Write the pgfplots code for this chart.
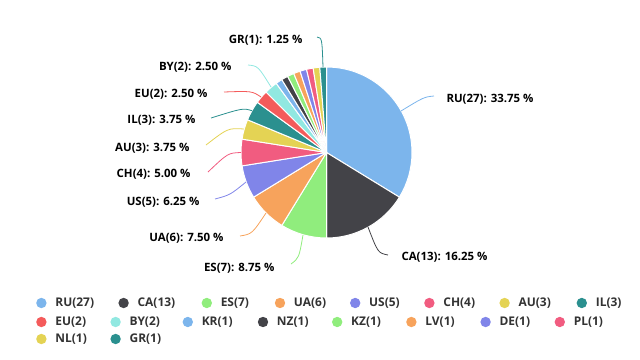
\documentclass[border=0pt]{standalone}
\usepackage{fontspec}
\setmainfont{Open Sans}
\usepackage{pgfplots}
\usepackage{pgfplotstable}
\pgfplotsset{compat=1.18}
\definecolor{hc1}{HTML}{7CB5EC}
\definecolor{hc2}{HTML}{434348}
\definecolor{hc3}{HTML}{90ED7D}
\definecolor{hc4}{HTML}{F7A35C}
\definecolor{hc5}{HTML}{8085E9}
\definecolor{hc6}{HTML}{F15C80}
\definecolor{hc7}{HTML}{E4D354}
\definecolor{hc8}{HTML}{2B908F}
\definecolor{hc9}{HTML}{F45B5B}
\definecolor{hc10}{HTML}{91E8E1}
\definecolor{legtext}{HTML}{333333}

\pgfplotstableread{
name count color
RU 27 hc1
CA 13 hc2
ES 7 hc3
UA 6 hc4
US 5 hc5
CH 4 hc6
AU 3 hc7
IL 3 hc8
EU 2 hc9
BY 2 hc10
KR 1 hc1
NZ 1 hc2
KZ 1 hc3
LV 1 hc4
DE 1 hc5
PL 1 hc6
NL 1 hc7
GR 1 hc8
}\piedata

\newcommand{\lbl}{\bfseries\fontsize{11.5}{13}\selectfont}
\pgfplotsset{
  legrow/.style={
    anchor=south west, scale only axis, width=5bp, height=5bp, hide axis,
    xmin=0, xmax=1, ymin=0, ymax=1, legend columns=-1,
    legend style={at={(0,0)}, anchor=west, draw=none, fill=none,
      inner sep=0pt, column sep=0pt, nodes={inner sep=0pt},
      cells={anchor=west}, font=\bfseries\fontsize{12}{14}\selectfont, text=legtext}
  },
  dot/.style={legend image code/.code={%
    \fill[draw=none, fill=#1] (0,0) circle (5.2bp);
    \path[draw=none, fill=none] (-5.2bp,0) rectangle (14bp,0.1bp);}}
}

\begin{document}
\begin{tikzpicture}
\useasboundingbox (0,0) rectangle (640bp,360bp);
\begin{axis}[at={(0,0)}, anchor=south west, scale only axis,
  width=640bp, height=360bp, xmin=0, xmax=640, ymin=0, ymax=360,
  y dir=reverse, hide axis, clip=false]
\pgfplotsextra{
  \pgfplotstablegetrowsof{\piedata}
  \pgfmathtruncatemacro\lastrow{\pgfplotsretval-1}
  \gdef\mysum{0}
  \foreach \i in {0,...,\lastrow}{
    \pgfplotstablegetelem{\i}{count}\of\piedata
    \pgfmathsetmacro\tmpsum{\mysum+\pgfplotsretval}
    \global\let\mysum\tmpsum
  }
  \gdef\mycum{0}
  \foreach \i in {0,...,\lastrow}{
    \pgfplotstablegetelem{\i}{count}\of\piedata
    \let\myval\pgfplotsretval
    \pgfplotstablegetelem{\i}{color}\of\piedata
    \let\mycol\pgfplotsretval
    \pgfmathsetmacro\angA{90-\mycum/\mysum*360}
    \pgfmathsetmacro\angB{90-(\mycum+\myval)/\mysum*360}
    \fill[fill=\mycol, draw=white, line width=1bp, line join=round]
      (axis cs:326.5,152.5) -- ++(\angA:85.5bp)
      arc[start angle=\angA, end angle=\angB, radius=85.5bp] -- cycle;
    \pgfmathsetmacro\tmpcum{\mycum+\myval}
    \global\let\mycum\tmpcum
  }
}
% connectors
\draw[hc1, line width=0.8bp] (axis cs:434,96) .. controls (axis cs:424,97) .. (axis cs:401,111);
\draw[hc2, line width=0.8bp] (axis cs:388,255) .. controls (axis cs:378,253) .. (axis cs:368,227);
\draw[hc3, line width=0.8bp] (axis cs:291,264) .. controls (axis cs:299,258) .. (axis cs:303,235);
\draw[hc4, line width=0.8bp] (axis cs:240,236) .. controls (axis cs:252,234) .. (axis cs:266,213);
\draw[hc5, line width=0.8bp] (axis cs:215,199) .. controls (axis cs:230,195) .. (axis cs:246,182);
\draw[hc6, line width=0.8bp] (axis cs:208,172) .. controls (axis cs:228,153) .. (axis cs:241,152.5);
\draw[hc7, line width=0.8bp] (axis cs:206,145) .. controls (axis cs:228,128) .. (axis cs:244,129);
\draw[hc8, line width=0.8bp] (axis cs:211,118) .. controls (axis cs:243,108) .. (axis cs:252,110.7);
\draw[hc9, line width=0.8bp] (axis cs:224,92) .. controls (axis cs:252,91) .. (axis cs:261,97);
\draw[hc10, line width=0.8bp] (axis cs:248,65) .. controls (axis cs:258,66) .. (axis cs:271,87);
\draw[hc8, line width=0.8bp] (axis cs:317,37) .. controls (axis cs:322,38) .. (axis cs:323,67);
% labels
\node[anchor=base east, font=\lbl] at (axis cs:306,43) {GR(1): 1.25 \%};
\node[anchor=base east, font=\lbl] at (axis cs:235,70) {BY(2): 2.50 \%};
\node[anchor=base east, font=\lbl] at (axis cs:211,97) {EU(2): 2.50 \%};
\node[anchor=base east, font=\lbl] at (axis cs:199,123) {IL(3): 3.75 \%};
\node[anchor=base east, font=\lbl] at (axis cs:193,151) {AU(3): 3.75 \%};
\node[anchor=base east, font=\lbl] at (axis cs:194,177) {CH(4): 5.00 \%};
\node[anchor=base east, font=\lbl] at (axis cs:203,205) {US(5): 6.25 \%};
\node[anchor=base east, font=\lbl] at (axis cs:227,241) {UA(6): 7.50 \%};
\node[anchor=base east, font=\lbl] at (axis cs:278,271) {ES(7): 8.75 \%};
\node[anchor=base west, font=\lbl] at (axis cs:443,102) {RU(27): 33.75 \%};
\node[anchor=base west, font=\lbl] at (axis cs:398,260) {CA(13): 16.25 \%};
\end{axis}

% legend row 1
\begin{axis}[legrow, at={(36bp,57bp)}]
\addlegendimage{dot=hc1}\addlegendentry{\makebox[63bp][l]{RU(27)}}
\addlegendimage{dot=hc2}\addlegendentry{\makebox[64bp][l]{CA(13)}}
\addlegendimage{dot=hc3}\addlegendentry{\makebox[54bp][l]{ES(7)}}
\addlegendimage{dot=hc4}\addlegendentry{\makebox[56bp][l]{UA(6)}}
\addlegendimage{dot=hc5}\addlegendentry{\makebox[55bp][l]{US(5)}}
\addlegendimage{dot=hc6}\addlegendentry{\makebox[56bp][l]{CH(4)}}
\addlegendimage{dot=hc7}\addlegendentry{\makebox[58bp][l]{AU(3)}}
\addlegendimage{dot=hc8}\addlegendentry{IL(3)}
\end{axis}
% legend row 2
\begin{axis}[legrow, at={(36bp,38bp)}]
\addlegendimage{dot=hc9}\addlegendentry{\makebox[55bp][l]{EU(2)}}
\addlegendimage{dot=hc10}\addlegendentry{\makebox[53bp][l]{BY(2)}}
\addlegendimage{dot=hc1}\addlegendentry{\makebox[56bp][l]{KR(1)}}
\addlegendimage{dot=hc2}\addlegendentry{\makebox[55bp][l]{NZ(1)}}
\addlegendimage{dot=hc3}\addlegendentry{\makebox[55bp][l]{KZ(1)}}
\addlegendimage{dot=hc4}\addlegendentry{\makebox[55bp][l]{LV(1)}}
\addlegendimage{dot=hc5}\addlegendentry{\makebox[55bp][l]{DE(1)}}
\addlegendimage{dot=hc6}\addlegendentry{PL(1)}
\end{axis}
% legend row 3
\begin{axis}[legrow, at={(36bp,21bp)}]
\addlegendimage{dot=hc7}\addlegendentry{\makebox[55bp][l]{NL(1)}}
\addlegendimage{dot=hc8}\addlegendentry{GR(1)}
\end{axis}
\end{tikzpicture}
\end{document}
